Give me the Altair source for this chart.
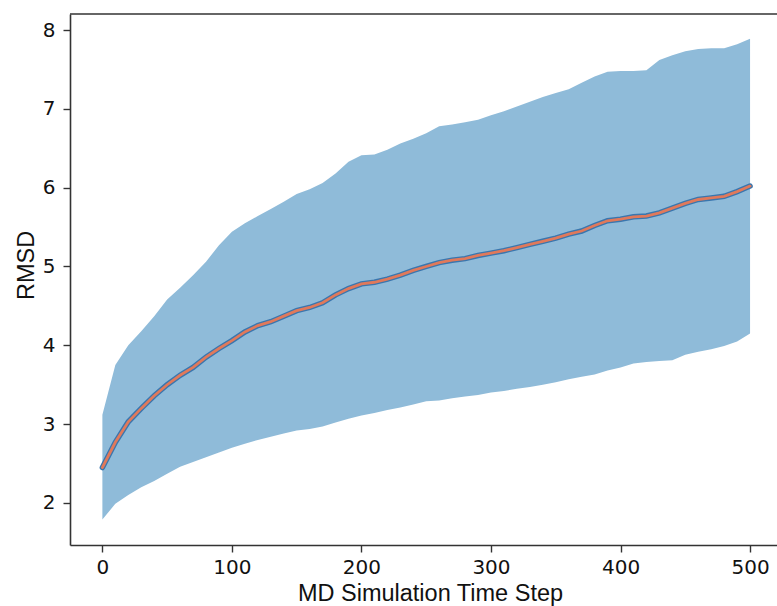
import altair as alt
import pandas as pd

steps = list(range(0, 501, 10))

mean_rmsd = [2.45, 2.77, 3.03, 3.20, 3.36, 3.50, 3.62, 3.72, 3.85, 3.96,
             4.06, 4.17, 4.25, 4.30, 4.37, 4.44, 4.48, 4.54, 4.64, 4.72,
             4.78, 4.80, 4.84, 4.89, 4.95, 5.00, 5.05, 5.08, 5.10, 5.14,
             5.17, 5.20, 5.24, 5.28, 5.32, 5.36, 5.41, 5.45, 5.52, 5.58,
             5.60, 5.63, 5.64, 5.68, 5.74, 5.80, 5.85, 5.87, 5.89, 5.95,
             6.02]

upper_rmsd = [3.12, 3.75, 4.00, 4.18, 4.37, 4.58, 4.73, 4.89, 5.06, 5.27,
              5.44, 5.55, 5.64, 5.73, 5.82, 5.92, 5.98, 6.06, 6.18, 6.33,
              6.41, 6.42, 6.48, 6.56, 6.62, 6.69, 6.78, 6.80, 6.83, 6.86,
              6.92, 6.97, 7.03, 7.09, 7.15, 7.20, 7.25, 7.33, 7.41, 7.47,
              7.48, 7.48, 7.49, 7.62, 7.68, 7.73, 7.76, 7.77, 7.77, 7.82,
              7.89]

lower_rmsd = [1.79, 1.99, 2.10, 2.20, 2.28, 2.37, 2.46, 2.52, 2.58, 2.64,
              2.70, 2.75, 2.80, 2.84, 2.88, 2.92, 2.94, 2.97, 3.02, 3.07,
              3.11, 3.14, 3.18, 3.21, 3.25, 3.29, 3.30, 3.33, 3.35, 3.37,
              3.40, 3.42, 3.45, 3.47, 3.50, 3.53, 3.57, 3.60, 3.63, 3.68,
              3.72, 3.77, 3.79, 3.80, 3.81, 3.88, 3.92, 3.95, 3.99, 4.05,
              4.15]

x_ticks = [0, 100, 200, 300, 400, 500]
y_ticks = [2, 3, 4, 5, 6, 7, 8]

df = pd.DataFrame({"step": steps, "mean": mean_rmsd,
                   "upper": upper_rmsd, "lower": lower_rmsd})

W, H = 707, 531
xs = alt.Scale(domain=[-25, 520.8], nice=False, zero=False)
ys = alt.Scale(domain=[1.467, 8.203], nice=False, zero=False)

x_axis = alt.Axis(values=x_ticks, format="d", title="MD Simulation Time Step", grid=False,
                  labelFont="DejaVu Sans", labelFontSize=20, labelColor="#111111",
                  labelBaseline="alphabetic", labelPadding=21,
                  tickSize=7, tickWidth=1.4, tickColor="#333333",
                  domainColor="#333333", domainWidth=1.6,
                  titleFont="Liberation Sans", titleFontSize=23.5, titleFontWeight="normal",
                  titleColor="#111111", titleBaseline="alphabetic",
                  titleX=360, titleY=55, titleAlign="center")
y_axis = alt.Axis(values=y_ticks, format="d", title="RMSD", grid=False,
                  labelFont="DejaVu Sans", labelFontSize=20, labelColor="#111111",
                  labelPadding=8, tickSize=7, tickWidth=1.4, tickColor="#333333",
                  domainColor="#333333", domainWidth=1.6,
                  titleFont="Liberation Sans", titleFontSize=23.5, titleFontWeight="normal",
                  titleColor="#111111", titleAngle=270, titleBaseline="alphabetic",
                  titleAlign="center", titleX=-37, titleY=251)

base = alt.Chart(df)

band = base.mark_area(color="#8fbbd9", opacity=1).encode(
    x=alt.X("step:Q", scale=xs, axis=x_axis),
    y=alt.Y("lower:Q", scale=ys, axis=y_axis),
    y2="upper:Q",
)
line_under = base.mark_line(color="#3a76ae", strokeWidth=5.5, strokeCap="round").encode(
    x=alt.X("step:Q", scale=xs),
    y=alt.Y("mean:Q", scale=ys),
)
line_top = base.mark_line(color="#e0795b", strokeWidth=2.8, strokeCap="round").encode(
    x=alt.X("step:Q", scale=xs),
    y=alt.Y("mean:Q", scale=ys),
)
top_border = alt.Chart(pd.DataFrame({"k": [0]})).mark_rule(
    color="#333333", strokeWidth=1.6
).encode(x=alt.value(0), x2=alt.value(W), y=alt.value(0))

chart = alt.layer(band, line_under, line_top, top_border).properties(
    width=W, height=H,
    autosize=alt.AutoSizeParams(type="none"),
    padding={"left": 70, "top": 14, "right": 0, "bottom": 61},
    background="white",
).configure_view(stroke=None)

chart.save("out.html", embed_options={"renderer": "svg", "actions": False})
